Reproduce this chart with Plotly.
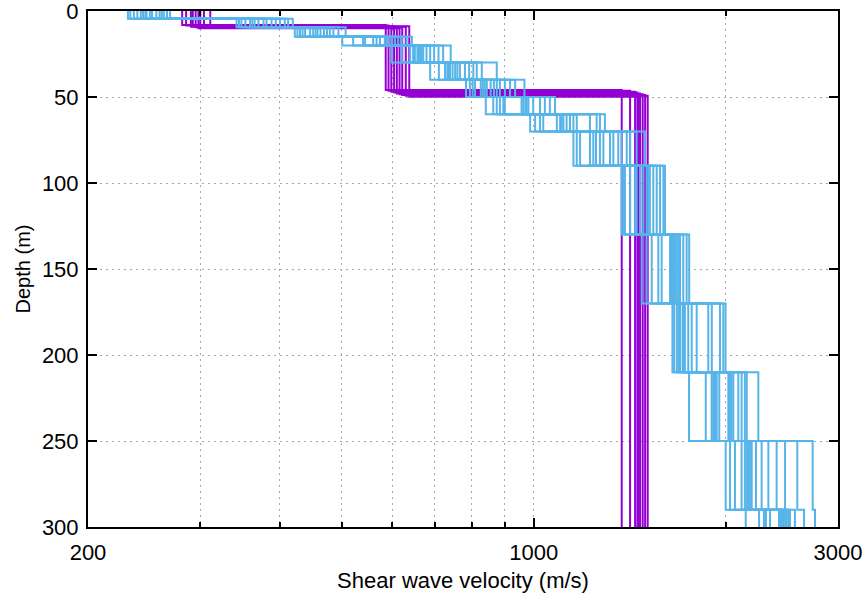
import plotly.graph_objects as go

# ---- purple profiles: three-layer models (velocity in m/s, interface depths in m)
purple_vs1 = [281, 285, 290, 292, 295, 298, 300, 304, 311]
purple_h1 = [8.1, 8.5, 9.1, 8.8, 9.4, 10.0, 9.6, 9.2, 8.9]
purple_vs2 = [586, 592, 598, 604, 610, 616, 622, 630, 638]
purple_h2 = [45.9, 46.4, 46.9, 47.4, 47.9, 48.4, 48.8, 49.3, 49.8]
purple_vs3 = [1374, 1416, 1442, 1454, 1468, 1482, 1495, 1509, 1460]

# ---- blue profiles: layered models sharing common interface depths
blue_tops = [0, 4.5, 9.5, 15, 20, 30, 40, 50, 60, 70, 90, 130, 170, 210, 250, 290]
blue_L1 = [246, 231, 259, 239, 266, 250, 236, 261, 244, 269, 252, 233, 256, 242, 263, 247]
blue_L2 = [370, 412, 345, 388, 359, 400, 419, 353, 381, 342, 365, 407, 348, 394, 362, 377]
blue_L3 = [458, 430, 494, 446, 422, 474, 438, 507, 463, 426, 485, 451, 469, 434, 479, 455]
blue_L4 = [584, 621, 540, 606, 501, 644, 567, 591, 521, 613, 560, 632, 574, 544, 599, 588]
blue_L5 = [663, 698, 621, 741, 647, 671, 599, 709, 657, 688, 640, 721, 651, 679, 660, 667]
blue_L6 = [759, 804, 726, 875, 736, 780, 688, 829, 746, 792, 710, 814, 739, 766, 732, 753]
blue_L7 = [856, 901, 809, 967, 832, 885, 783, 935, 844, 875, 794, 918, 826, 866, 802, 838]
blue_L8 = [963, 1023, 896, 1080, 901, 998, 841, 1060, 957, 981, 864, 1041, 885, 975, 875, 970]
blue_L9 = [1113, 1168, 1035, 1293, 1087, 1154, 987, 1255, 1100, 1140, 1005, 1270, 1023, 1126, 1106, 1225]
blue_L10 = [1286, 1357, 1240, 1494, 1225, 1333, 1154, 1450, 1270, 1317, 1182, 1416, 1168, 1374, 1252, 1399]
blue_L11 = [1468, 1540, 1416, 1606, 1390, 1503, 1374, 1578, 1450, 1485, 1382, 1559, 1442, 1521, 1512, 1597]
blue_L12 = [1646, 1696, 1568, 1753, 1531, 1665, 1477, 1737, 1587, 1655, 1503, 1716, 1636, 1676, 1651, 1686]
blue_L13 = [1747, 1878, 1696, 1999, 1676, 1801, 1650, 1959, 1712, 1769, 1660, 1902, 1686, 1726, 1719, 1983]
blue_L14 = [2031, 2143, 1912, 2250, 1901, 2093, 1752, 2158, 1954, 2056, 1861, 2118, 1924, 2043, 1936, 2019]
blue_L15 = [2184, 2404, 2118, 2738, 2068, 2277, 2000, 2590, 2158, 2333, 2031, 2478, 2143, 2231, 2170, 2197]
blue_L16 = [2442, 2568, 2313, 2761, 2296, 2492, 2150, 2654, 2347, 2462, 2256, 2522, 2424, 2478, 2451, 2507]

# half-space is drawn down past the bottom of the axis
bottom_depth = 320

x_major = [200, 1000, 3000]
x_minor = [300, 400, 500, 600, 700, 800, 900, 2000]
y_ticks = [0, 50, 100, 150, 200, 250, 300]

PURPLE = "#9400d3"
BLUE = "#56b4e9"

fig = go.Figure()


def add_profile(vs, tops, color):
    # 'vh' steps: vertical segment down each layer, horizontal jump at interface
    fig.add_trace(go.Scatter(
        x=list(vs) + [vs[-1]],
        y=list(tops) + [bottom_depth],
        mode="lines",
        line=dict(color=color, width=2, shape="vh"),
        hoverinfo="skip",
        showlegend=False,
    ))


for i in range(len(purple_vs1)):
    add_profile([purple_vs1[i], purple_vs2[i], purple_vs3[i]],
                [0, purple_h1[i], purple_h2[i]], PURPLE)

blue_layers = [blue_L1, blue_L2, blue_L3, blue_L4, blue_L5, blue_L6, blue_L7, blue_L8,
               blue_L9, blue_L10, blue_L11, blue_L12, blue_L13, blue_L14, blue_L15, blue_L16]
for i in range(len(blue_L1)):
    add_profile([layer[i] for layer in blue_layers], blue_tops, BLUE)

FONT = "Liberation Sans, Arial, sans-serif"
GRID = "#a8a8a8"

fig.update_layout(
    width=866, height=601,
    margin=dict(l=88, r=28, t=11, b=74),
    paper_bgcolor="white", plot_bgcolor="white",
    font=dict(family=FONT, size=22, color="black"),
    showlegend=False,
)

fig.update_xaxes(
    type="log",
    range=[2.30103, 3.4771213],
    automargin=False,
    ticklabeloverflow="allow",
    tickvals=x_major, ticktext=[str(v) for v in x_major],
    ticks="inside", ticklen=9, tickwidth=1.5, tickcolor="black",
    showline=True, linecolor="black", linewidth=2, mirror="allticks",
    showgrid=True, gridcolor=GRID, gridwidth=1, griddash="2px,4px",
    minor=dict(tickvals=x_minor, ticks="inside", ticklen=5, tickwidth=1.5,
               tickcolor="black", showgrid=True, gridcolor=GRID,
               gridwidth=1, griddash="2px,4px"),
    ticklabelstandoff=5,
    tickfont=dict(size=22),
    title=dict(text="Shear wave velocity (m/s)", font=dict(size=22), standoff=8),
    zeroline=False,
)

fig.update_yaxes(
    range=[300, 0],
    automargin=False,
    ticklabeloverflow="allow",
    tickvals=y_ticks,
    ticks="inside", ticklen=9, tickwidth=1.5, tickcolor="black",
    showline=True, linecolor="black", linewidth=2, mirror="allticks",
    showgrid=True, gridcolor=GRID, gridwidth=1, griddash="2px,4px",
    ticklabelstandoff=3,
    tickfont=dict(size=22),
    title=dict(text="Depth (m)", font=dict(size=20), standoff=6),
    zeroline=False,
)

fig.write_html("out.html")
